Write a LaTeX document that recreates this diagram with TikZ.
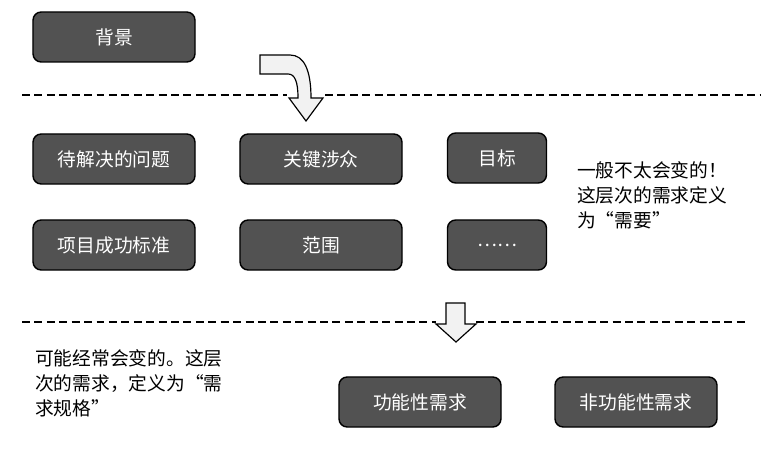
\documentclass[tikz,border=0pt]{standalone}
\usepackage{fontspec}
\setmainfont{Noto Sans CJK SC}
\usepackage{xcolor}
\usetikzlibrary{positioning,calc}
\definecolor{boxgray}{HTML}{525252}
\definecolor{arrowfill}{HTML}{F2F2F2}

\tikzset{
  reqbox/.style={draw=black, fill=boxgray, line width=1.2pt,
    rounded corners=7pt, text=white, minimum height=1.5cm,
    inner sep=0pt, font=\fontsize{16}{20}\selectfont},
  wide/.style={minimum width=4.86cm},
  narrow/.style={minimum width=2.97cm},
  note/.style={align=left, inner sep=0pt, anchor=north west,
    font=\fontsize{16}{21.3}\selectfont},
  sepline/.style={dash pattern=on 6.8pt off 3.8pt, line width=1.2pt},
  blockarrow/.style={draw=black, fill=arrowfill, line width=1pt, line join=miter}
}

\begin{document}
\begin{tikzpicture}[x=0.03cm, y=-0.03cm]
    \useasboundingbox (0,0) rectangle (774,453);

    \node[reqbox, wide] (beijing) at (114,37) {背景};

    % upper curved arrow
    \draw[blockarrow] (260,55) -- (290,55)
      .. controls (304,55) and (311,70) .. (311,98) -- (323,98) -- (306,121)
      -- (289,98) -- (298,98) .. controls (298,82) and (295,74) .. (288,74)
      -- (260,74) -- cycle;
    \draw[sepline] (22,95) -- (287,95);
    \draw[sepline] (325,95) -- (760,95);

    \node[reqbox, wide] (wenti) at (114,159) {待解决的问题};
    \node[reqbox, wide] (shezhong) at (321,159) {关键涉众};
    \node[reqbox, narrow] (mubiao) at (497,158) {目标};
    \node[reqbox, wide] (biaozhun) at (114,245) {项目成功标准};
    \node[reqbox, wide] (fanwei) at (321,245) {范围};
    \node[reqbox, narrow] (gengduo) at (497,245) {……};

    \node[note] (xuyao) at (577,161) {一般不太会变的！\\这层次的需求定义\\为“需要”};

    % lower straight arrow
    \draw[blockarrow] (446,303) -- (465,303) -- (465,324) -- (476,324)
      -- (456,342) -- (436,324) -- (446,324) -- cycle;
    \draw[sepline] (22,322) -- (436,322);
    \draw[sepline] (476,322) -- (747,322);

    \node[note] (guige) at (35,349) {可能经常会变的。这层\\次的需求，定义为“需\\求规格”};

    \node[reqbox, wide] (gongneng) at (420,402) {功能性需求};
    \node[reqbox, wide] (feigongneng) at (636,402) {非功能性需求};
\end{tikzpicture}
\end{document}
